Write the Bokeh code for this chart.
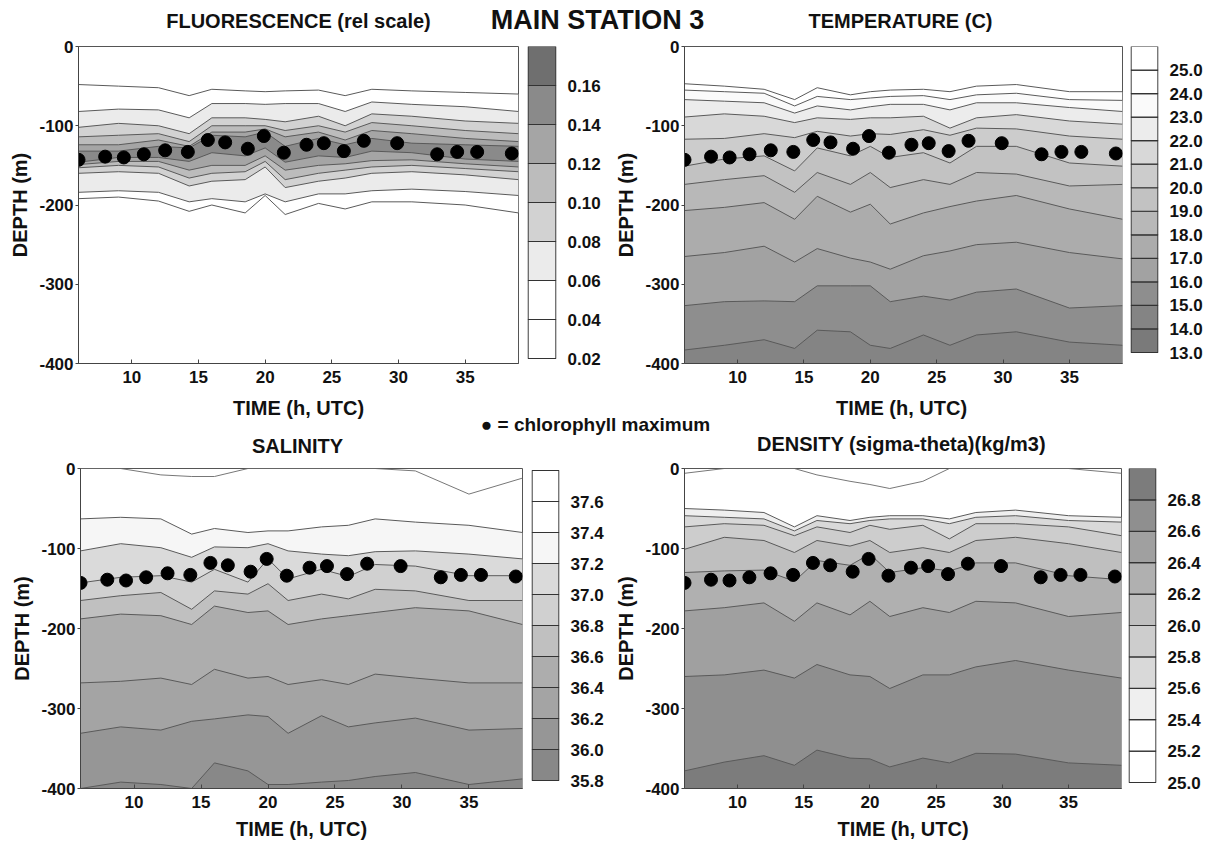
from bokeh.plotting import figure
from bokeh.layouts import column, row
from bokeh.models import FixedTicker, Range1d, Label, PrintfTickFormatter
from bokeh.embed import file_html
from bokeh.resources import INLINE

FONT = "Liberation Sans"

# ---------------- data ----------------
# time points (h, UTC) at which isoline depths were read
T = [6, 9, 12, 14.3, 16, 18.5, 20, 21.5, 24, 26, 28, 31, 35, 39]

# chlorophyll maximum
chl_time = [6.0, 8.0, 9.4, 10.9, 12.5, 14.2, 15.7, 17.0, 18.7, 19.9, 21.4, 23.1,
            24.4, 25.9, 27.4, 29.9, 32.9, 34.4, 35.9, 38.5]
chl_depth = [-143, -139, -140, -136, -131, -133, -118, -121, -129, -113, -134, -124,
             -122, -132, -119, -122, -136, -133, -133, -135]

# Fluorescence (rel scale): colour scale and isolines (upper / lower branch)
fluor_bar_levels = [0.02, 0.04, 0.06, 0.08, 0.10, 0.12, 0.14, 0.16, 0.18]
fluor_bar_colors = ["#ffffff", "#ffffff", "#ebebeb", "#d2d2d2", "#bcbcbc",
                    "#a5a5a5", "#8a8a8a", "#6f6f6f"]
fluor_levels = [0.04, 0.06, 0.08, 0.10, 0.12, 0.14]
fluor_upper = [
    [-48, -50, -52, -62, -54, -56, -57, -56, -55, -62, -54, -56, -58, -60],
    [-82, -79, -80, -90, -72, -72, -73, -72, -72, -82, -70, -73, -76, -82],
    [-102, -97, -100, -110, -90, -90, -92, -95, -88, -100, -85, -88, -94, -97],
    [-114, -112, -110, -120, -100, -100, -100, -106, -100, -108, -96, -100, -106, -110],
    [-124, -124, -118, -126, -108, -108, -104, -114, -108, -118, -106, -110, -116, -120],
    [-132, -132, -126, -128, -112, -114, -108, -126, -116, -124, -116, -122, -124, -126],
]
fluor_lower = [
    [-192, -190, -195, -208, -200, -210, -188, -212, -198, -205, -196, -196, -200, -210],
    [-184, -182, -184, -196, -192, -196, -186, -196, -186, -186, -182, -180, -183, -188],
    [-160, -158, -160, -176, -170, -168, -152, -178, -170, -166, -160, -158, -162, -168],
    [-153, -150, -152, -166, -160, -158, -145, -168, -160, -156, -152, -150, -154, -158],
    [-149, -145, -145, -156, -150, -150, -138, -156, -150, -148, -144, -143, -148, -152],
    [-146, -140, -140, -145, -134, -138, -128, -146, -138, -140, -132, -134, -142, -145],
]

# Temperature (C)
temp_bar_levels = [13.0, 14.0, 15.0, 16.0, 17.0, 18.0, 19.0, 20.0, 21.0, 22.0, 23.0,
                   24.0, 25.0, 26.0]
temp_bar_colors = ["#7a7a7a", "#848484", "#8e8e8e", "#a2a2a2", "#acacac", "#b8b8b8",
                   "#c2c2c2", "#cccccc", "#d8d8d8", "#ececec", "#fafafa", "#ffffff",
                   "#ffffff"]
temp_levels = [25.0, 24.0, 23.0, 22.0, 21.0, 20.0, 19.0, 18.0, 17.0, 16.0, 15.0]
temp_isolines = [
    [-47, -50, -54, -67, -52, -61, -57, -55, -54, -57, -50, -48, -57, -57],
    [-55, -57, -59, -75, -63, -67, -65, -63, -62, -67, -61, -59, -67, -68],
    [-67, -69, -71, -84, -75, -80, -76, -73, -73, -80, -71, -71, -77, -82],
    [-89, -85, -88, -96, -90, -92, -90, -90, -88, -103, -90, -86, -94, -98],
    [-117, -116, -110, -115, -107, -113, -110, -111, -105, -112, -103, -104, -113, -117],
    [-151, -142, -138, -157, -128, -138, -126, -140, -134, -147, -126, -126, -147, -151],
    [-174, -168, -163, -184, -159, -174, -159, -178, -168, -174, -159, -161, -176, -174],
    [-207, -203, -197, -218, -189, -209, -199, -224, -210, -202, -195, -188, -205, -218],
    [-265, -260, -252, -272, -255, -267, -272, -281, -264, -258, -250, -247, -260, -268],
    [-327, -322, -321, -322, -302, -302, -302, -322, -315, -320, -310, -306, -330, -327],
    [-383, -377, -370, -381, -358, -360, -377, -381, -364, -377, -364, -360, -373, -377],
]

# Salinity
sal_bar_levels = [35.8, 36.0, 36.2, 36.4, 36.6, 36.8, 37.0, 37.2, 37.4, 37.6, 37.8]
sal_bar_colors = ["#888888", "#969696", "#a4a4a4", "#adadad", "#c0c0c0", "#d0d0d0",
                  "#dadada", "#f6f6f6", "#ffffff", "#ffffff"]
sal_surface_line = [0, 0, -8, -10, -10, 0, 0, 0, 0, 0, 0, -3, -32, -12]
sal_levels = [37.4, 37.2, 37.0, 36.8, 36.6, 36.4, 36.2, 36.0]
sal_isolines = [
    [-63, -61, -63, -82, -75, -80, -78, -78, -73, -71, -63, -67, -71, -80],
    [-103, -94, -99, -111, -98, -99, -94, -103, -107, -109, -104, -103, -107, -113],
    [-143, -136, -134, -142, -126, -142, -113, -138, -126, -135, -120, -122, -134, -134],
    [-165, -159, -155, -176, -153, -157, -144, -165, -157, -163, -151, -153, -165, -165],
    [-188, -182, -184, -195, -172, -180, -178, -195, -188, -184, -180, -174, -178, -195],
    [-268, -266, -262, -270, -251, -262, -260, -270, -264, -270, -257, -262, -268, -268],
    [-331, -323, -327, -316, -313, -308, -310, -331, -309, -323, -318, -312, -327, -325],
    [-400, -392, -395, -400, -368, -378, -395, -395, -392, -390, -385, -380, -395, -388],
]

# Density (sigma-theta)
dens_bar_levels = [25.0, 25.2, 25.4, 25.6, 25.8, 26.0, 26.2, 26.4, 26.6, 26.8, 27.0]
dens_bar_colors = ["#ffffff", "#ffffff", "#efefef", "#d9d9d9", "#cdcdcd", "#bfbfbf",
                   "#b0b0b0", "#a0a0a0", "#8f8f8f", "#7c7c7c"]
dens_surface_line = [-6, 0, 0, 0, -8, -16, -20, -25, -16, 0, 0, 0, 0, -6]
dens_levels = [25.4, 25.6, 25.8, 26.0, 26.2, 26.4, 26.6, 26.8]
dens_isolines = [
    [-50, -52, -55, -73, -59, -65, -61, -59, -59, -63, -55, -52, -59, -61],
    [-59, -61, -63, -78, -65, -69, -65, -63, -63, -69, -61, -59, -65, -67],
    [-73, -69, -71, -84, -73, -80, -71, -76, -71, -88, -69, -69, -73, -84],
    [-101, -86, -90, -105, -90, -97, -90, -105, -99, -105, -90, -86, -94, -105],
    [-130, -128, -127, -141, -115, -121, -107, -130, -124, -128, -118, -118, -134, -139],
    [-178, -174, -168, -191, -168, -183, -166, -185, -174, -180, -166, -168, -185, -180],
    [-260, -258, -252, -262, -245, -258, -260, -275, -258, -258, -248, -240, -252, -262],
    [-378, -367, -359, -371, -352, -362, -363, -373, -362, -368, -356, -357, -368, -371],
]

x_ticks = [10, 15, 20, 25, 30, 35]
y_ticks = [-400, -300, -200, -100, 0]

LINE_COLOR = "#5a5a5a"
TXT = "#111111"


# ---------------- helpers ----------------
def make_panel(width, height, left, right, top, bottom, xlabel):
    p = figure(width=width, height=height, x_range=Range1d(6, 39),
               y_range=Range1d(-400, 0), output_backend="svg",
               toolbar_location=None, title_location=None,
               min_border_left=left, min_border_right=right,
               min_border_top=top, min_border_bottom=bottom)
    p.grid.visible = False
    p.outline_line_color = "#555555"
    p.background_fill_color = "white"
    p.xaxis.ticker = FixedTicker(ticks=x_ticks)
    p.yaxis.ticker = FixedTicker(ticks=y_ticks)
    p.yaxis.major_label_overrides = {v: str(v) for v in y_ticks}
    if xlabel:
        p.xaxis.axis_label = "TIME (h, UTC)"
    p.yaxis.axis_label = "DEPTH (m)"
    for ax in p.axis:
        ax.axis_line_color = "#444444"
        ax.major_tick_line_color = "#444444"
        ax.minor_tick_line_color = None
        ax.major_label_text_font = FONT
        ax.major_label_text_font_style = "bold"
        ax.major_label_text_font_size = "17px"
        ax.major_label_text_color = TXT
        ax.axis_label_text_font = FONT
        ax.axis_label_text_font_style = "bold"
        ax.axis_label_text_font_size = "20px"
        ax.axis_label_text_color = TXT
    p.xaxis.major_tick_in = 4
    p.xaxis.major_tick_out = 0
    p.xaxis.major_label_standoff = 7
    p.xaxis.axis_label_standoff = 7
    p.yaxis.major_tick_in = 0
    p.yaxis.major_tick_out = 3
    p.yaxis.major_label_standoff = 2
    p.yaxis.axis_label_standoff = 5
    return p


def fill_monotonic(p, isolines, colors):
    floor = [p.y_range.start] * len(T)
    for d, c in zip(isolines, colors):
        p.varea(x=T, y1=d, y2=floor, fill_color=c)
    for d in isolines:
        p.line(T, d, line_color=LINE_COLOR, line_width=1)


def add_dots(p):
    p.scatter(chl_time, chl_depth, size=13, color="black")


def make_cbar(levels, colors, fmt, width, height, left, right, top, bottom,
              bar_top, bar_bottom):
    # bar_top / bar_bottom: pixel rows of the bar measured from the frame top
    frame_h = height - top - bottom
    per_px = (levels[-1] - levels[0]) / (bar_bottom - bar_top)
    y0 = levels[0] - (frame_h - bar_bottom) * per_px
    y1 = levels[-1] + bar_top * per_px
    c = figure(width=width, height=height, x_range=Range1d(0, 1),
               y_range=Range1d(y0, y1), x_axis_type=None,
               y_axis_location="right", output_backend="svg",
               toolbar_location=None, title_location=None,
               min_border_left=left, min_border_right=right,
               min_border_top=top, min_border_bottom=bottom)
    c.grid.visible = False
    c.outline_line_color = None
    c.quad(left=0.02, right=0.98, bottom=levels[:-1], top=levels[1:], fill_color=colors,
           line_color="#333333", line_width=1.2)
    ax = c.yaxis[0]
    ax.ticker = FixedTicker(ticks=levels[:-1])
    ax.formatter = PrintfTickFormatter(format=fmt)
    ax.axis_line_color = None
    ax.major_tick_line_color = None
    ax.minor_tick_line_color = None
    ax.major_label_standoff = 5
    ax.major_label_text_font = FONT
    ax.major_label_text_font_style = "bold"
    ax.major_label_text_font_size = "17px"
    ax.major_label_text_color = TXT
    return c


def text_strip(height, items):
    s = figure(width=1210, height=height, x_range=Range1d(0, 1210),
               y_range=Range1d(height, 0), x_axis_type=None, y_axis_type=None,
               output_backend="svg", toolbar_location=None, title_location=None,
               min_border=0)
    s.grid.visible = False
    s.outline_line_color = None
    for x, y, txt, size in items:
        s.add_layout(Label(x=x, y=y, text=txt, text_align="center",
                           text_baseline="middle", text_font=FONT,
                           text_font_style="bold", text_font_size=size,
                           text_color=TXT))
    return s


# ---------------- layout geometry ----------------
HEAD_H = 36
TOP_H, TOP_T, TOP_B = 360, 10, 33        # frames at y 46..363
MID_H = 60                                # y 396..456
BOT_H, BOT_T, BOT_B = 392, 12, 60        # frames at y 468..788

# ---------------- panels ----------------
# Fluorescence
p1 = make_panel(522, TOP_H, 78, 4, TOP_T, TOP_B, False)
for lev, up, lo in zip(fluor_levels, fluor_upper, fluor_lower):
    col = fluor_bar_colors[fluor_bar_levels.index(lev)]
    p1.varea(x=T, y1=up, y2=lo, fill_color=col)
for up, lo in zip(fluor_upper, fluor_lower):
    p1.line(T, up, line_color=LINE_COLOR, line_width=1)
    p1.line(T, lo, line_color=LINE_COLOR, line_width=1)
add_dots(p1)
cb1 = make_cbar(fluor_bar_levels, fluor_bar_colors, "%.2f", 90, TOP_H, 5, 56,
                TOP_T, TOP_B, 0, 312)

# Temperature
p2 = make_panel(514, TOP_H, 68, 4, TOP_T, TOP_B, False)
fill_monotonic(p2, temp_isolines,
               [temp_bar_colors[temp_bar_levels.index(l) - 1] for l in temp_levels])
add_dots(p2)
cb2 = make_cbar(temp_bar_levels, temp_bar_colors, "%.1f", 84, TOP_H, 4, 52,
                TOP_T, TOP_B, 0, 306)

# Salinity
p3 = make_panel(525, BOT_H, 80, 3, BOT_T, BOT_B, True)
fill_monotonic(p3, sal_isolines,
               [sal_bar_colors[sal_bar_levels.index(l) - 1] for l in sal_levels])
p3.line(T, sal_surface_line, line_color="#777777", line_width=1)
add_dots(p3)
cb3 = make_cbar(sal_bar_levels, sal_bar_colors, "%.1f", 87, BOT_H, 6, 53,
                BOT_T, BOT_B, 2, 312)

# Density
p4 = make_panel(513, BOT_H, 69, 4, BOT_T, BOT_B, True)
fill_monotonic(p4, dens_isolines,
               [dens_bar_colors[dens_bar_levels.index(l)] for l in dens_levels])
p4.line(T, dens_surface_line, line_color="#777777", line_width=1)
add_dots(p4)
cb4 = make_cbar(dens_bar_levels, dens_bar_colors, "%.1f", 85, BOT_H, 3, 54,
                BOT_T, BOT_B, 0, 314)

header = text_strip(HEAD_H, [
    (298, 20, "FLUORESCENCE (rel scale)", "20px"),
    (597, 19, "MAIN STATION 3", "27px"),
    (900, 20, "TEMPERATURE (C)", "20px"),
])
middle = text_strip(MID_H, [
    (298, 11, "TIME (h, UTC)", "20px"),
    (901, 11, "TIME (h, UTC)", "20px"),
    (595, 28, "\u25cf = chlorophyll maximum", "19px"),
    (297, 49, "SALINITY", "20px"),
    (901, 47, "DENSITY (sigma-theta)(kg/m3)", "20px"),
])

layout = column(header, row(p1, cb1, p2, cb2), middle, row(p3, cb3, p4, cb4))

open("out.html", "w").write(file_html(layout, INLINE))
